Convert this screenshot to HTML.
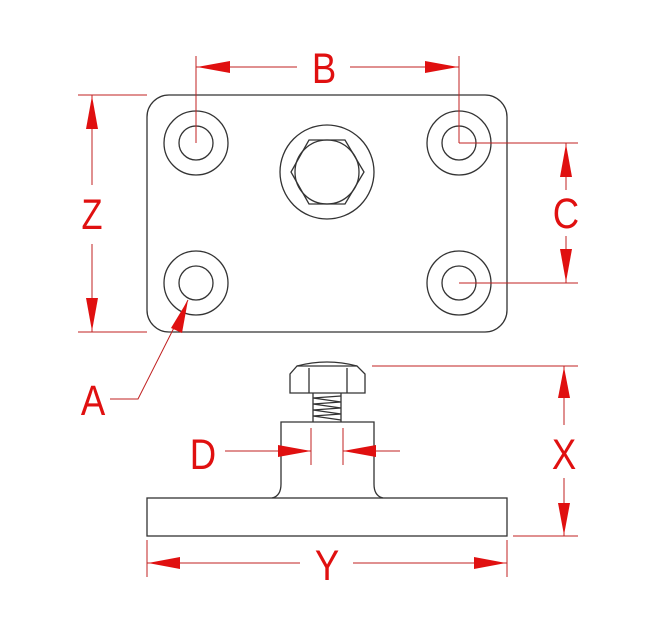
<!DOCTYPE html>
<html><head><meta charset="utf-8"><style>
html,body{margin:0;padding:0;background:#fff;width:650px;height:639px;overflow:hidden}
svg{display:block}
text{font-family:"Liberation Sans",sans-serif;font-size:43px;fill:#e01010;text-anchor:middle}
</style></head><body>
<svg width="650" height="639" viewBox="0 0 650 639">
<g fill="none" stroke="#333" stroke-width="1.3">
<rect x="147" y="95" width="360" height="237" rx="22"/>
<circle cx="196" cy="143" r="32"/><circle cx="196" cy="143" r="17"/>
<circle cx="459" cy="143" r="32"/><circle cx="459" cy="143" r="17"/>
<circle cx="196" cy="283" r="32"/><circle cx="196" cy="283" r="17"/>
<circle cx="459" cy="283" r="32"/><circle cx="459" cy="283" r="17"/>
<circle cx="327" cy="172" r="47"/><circle cx="327" cy="172" r="32"/>
<polygon points="309,140 345,140 364,172 345,204 309,204 291,172"/>
<!-- side view -->
<rect x="147" y="498" width="360" height="38"/>
<path d="M272,498 Q281,496 281,484 L281,422 L374,422 L374,484 Q374,496 383,498"/>
<path d="M297,366 L357,366 L365,374 L365,393 L290,393 L290,374 Z"/>
<line x1="309" y1="368" x2="309" y2="393"/><line x1="347" y1="368" x2="347" y2="393"/>
<path d="M297,366 Q327,358 357,366"/>
<path d="M313,393 L313,422 M341,393 L341,422"/>
<path d="M313,398 L341,402 M313,404 L341,408 M313,410 L341,414 M313,416 L341,420 M313,398 L341,396 M313,404 L341,402 M313,410 L341,408 M313,416 L341,414"/>
</g>
<g stroke="#c02020" stroke-width="1" fill="none">
<line x1="196" y1="56" x2="196" y2="143"/><line x1="459" y1="56" x2="459" y2="143"/>
<line x1="196" y1="67" x2="297" y2="67"/><line x1="350" y1="67" x2="459" y2="67"/>
<line x1="78" y1="95" x2="147" y2="95"/><line x1="78" y1="332" x2="147" y2="332"/>
<line x1="92" y1="95" x2="92" y2="185"/><line x1="92" y1="244" x2="92" y2="332"/>
<line x1="459" y1="143" x2="578" y2="143"/><line x1="459" y1="283" x2="578" y2="283"/>
<line x1="566" y1="143" x2="566" y2="190"/><line x1="566" y1="236" x2="566" y2="283"/>
<polyline points="188,300 138,399 110,399"/>
<line x1="372" y1="366" x2="578" y2="366"/><line x1="513" y1="536" x2="578" y2="536"/>
<line x1="564" y1="366" x2="564" y2="425"/><line x1="564" y1="478" x2="564" y2="536"/>
<line x1="311" y1="428" x2="311" y2="465"/><line x1="343" y1="428" x2="343" y2="465"/>
<line x1="225" y1="451" x2="311" y2="451"/><line x1="343" y1="451" x2="400" y2="451"/>
<line x1="147" y1="540" x2="147" y2="577"/><line x1="507" y1="540" x2="507" y2="577"/>
<line x1="147" y1="563" x2="300" y2="563"/><line x1="353" y1="563" x2="507" y2="563"/>
</g>
<g fill="#e01010">
<polygon points="197,67 230,61 230,73"/><polygon points="458,67 425,61 425,73"/>
<polygon points="92,96 86,129 98,129"/><polygon points="92,331 86,298 98,298"/>
<polygon points="566,144 560,177 572,177"/><polygon points="566,282 560,249 572,249"/>
<polygon points="188,300 171,328 182,333"/>
<polygon points="564,367 558,398 570,398"/><polygon points="564,535 558,503 570,503"/>
<polygon points="311,451 278,445 278,457"/><polygon points="343,451 376,445 376,457"/>
<polygon points="148,563 180,557 180,569"/><polygon points="506,563 474,557 474,569"/>
</g>
<g>
<text transform="translate(324,83) scale(0.85,1)">B</text>
<text transform="translate(92,229) scale(0.8,1)">Z</text>
<text transform="translate(566,228) scale(0.85,1)">C</text>
<text transform="translate(93,415) scale(0.85,1)">A</text>
<text transform="translate(564,469) scale(0.85,1)">X</text>
<text transform="translate(203,469) scale(0.85,1)">D</text>
<text transform="translate(327,580) scale(0.85,1)">Y</text>
</g>
</svg>
</body></html>
